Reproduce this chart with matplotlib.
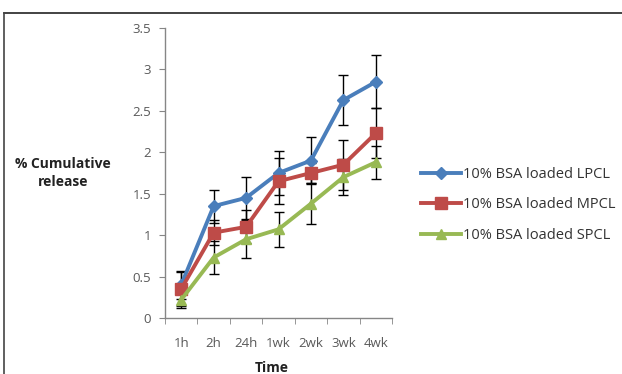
import numpy as np
import matplotlib.pyplot as plt
from matplotlib.lines import Line2D

# time points and cumulative release values
times = ["1h", "2h", "24h", "1wk", "2wk", "3wk", "4wk"]

lpcl = [0.40, 1.35, 1.45, 1.75, 1.90, 2.63, 2.85]
lpcl_err = [0.17, 0.20, 0.25, 0.27, 0.28, 0.30, 0.32]

mpcl = [0.35, 1.03, 1.10, 1.65, 1.75, 1.85, 2.23]
mpcl_err = [0.20, 0.15, 0.20, 0.28, 0.12, 0.30, 0.30]

spcl = [0.22, 0.73, 0.95, 1.07, 1.38, 1.70, 1.88]
spcl_err = [0.10, 0.20, 0.23, 0.21, 0.25, 0.22, 0.20]

labels = ["10% BSA loaded LPCL", "10% BSA loaded MPCL", "10% BSA loaded SPCL"]
colors = ["#4A7EBB", "#BE4B48", "#98B954"]
markers = ["D", "s", "^"]
msizes = [6, 8, 7.5]

plt.rcParams['font.family'] = ['Open Sans', 'DejaVu Sans']

fig = plt.figure(figsize=(6.22, 3.74), dpi=100)
ax = fig.add_axes([165/622, 1 - 318/374, 227/622, 290/374])

x = np.arange(len(times))
series = [(lpcl, lpcl_err), (mpcl, mpcl_err), (spcl, spcl_err)]
for (vals, errs), c, m, ms in zip(series, colors, markers, msizes):
    ax.errorbar(x, vals, yerr=errs, fmt='none', ecolor='black', elinewidth=1,
                capsize=3.5, capthick=1, zorder=2)
for (vals, errs), c, m, ms in zip(series, colors, markers, msizes):
    ax.plot(x, vals, color=c, marker=m, markersize=ms, linewidth=2.8, zorder=3)

ax.set_xlim(-0.5, len(times) - 0.5)
ax.set_ylim(0, 3.5)
ax.set_yticks(np.arange(0, 3.51, 0.5))
ax.set_yticklabels(["0", "0.5", "1", "1.5", "2", "2.5", "3", "3.5"])
ax.set_xticks(x)
ax.set_xticklabels(times)
ax.set_xticks(np.arange(-0.5, len(times), 1), minor=True)
ax.tick_params(axis='x', which='major', length=0, pad=14, labelsize=9.5, colors='#595959')
ax.tick_params(axis='x', which='minor', length=4, color='#868686')
ax.tick_params(axis='y', length=4, color='#868686', labelsize=9.5, colors='#595959', pad=6)
ax.tick_params(axis='y', color='#868686')
for s in ['top', 'right']:
    ax.spines[s].set_visible(False)
for s in ['left', 'bottom']:
    ax.spines[s].set_color('#868686')
    ax.spines[s].set_linewidth(1)

fig.text(63/622, 1 - 173/374, "% Cumulative\nrelease", ha='center', va='center',
         fontsize=10, fontweight='bold', color='#222222', linespacing=1.4)
fig.text(272/622, 1 - 368/374, "Time", ha='center', va='center',
         fontsize=10, fontweight='bold', color='#222222')

handles = [Line2D([], [], color=c, marker=m, markersize=ms, linewidth=2.8)
           for c, m, ms in zip(colors, markers, msizes)]
fig.legend(handles, labels, loc='center left', bbox_to_anchor=(408/622, 1 - 205/374),
           frameon=False, fontsize=10.5, labelspacing=1.05, handlelength=2.7,
           handletextpad=0.15, labelcolor='#333333')

# figure border (top and left only)
fig.add_artist(Line2D([4/622, 1], [1 - 12.5/374, 1 - 12.5/374], color='#222222', linewidth=1.2))
fig.add_artist(Line2D([4/622, 4/622], [0, 1 - 12.5/374], color='#444444', linewidth=1.2))

fig.savefig("out.png", dpi=100)
